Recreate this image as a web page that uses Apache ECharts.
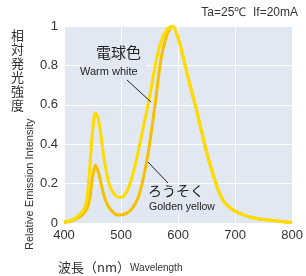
<!DOCTYPE html>
<html>
<head>
<meta charset="utf-8">
<script src="https://cdn.jsdelivr.net/npm/echarts@6/dist/echarts.min.js"></script>
<style>
  html, body { margin: 0; padding: 0; background: #fff; }
  #chart { width: 306px; height: 276px; }
</style>
</head>
<body>
<div id="chart"></div>
<script>
// 波長 (nm)
const wavelengths = [400, 410, 420, 430, 435, 440, 445, 450, 455, 460, 465, 470, 475, 480, 490, 500, 510, 520, 530, 540, 550, 560, 570, 580, 590,
  600, 610, 620, 630, 640, 650, 660, 670, 680, 690, 700, 720, 740, 760, 780, 800]
// 電球色 Warm white
const warmWhite = [0.005, 0.012, 0.025, 0.05, 0.07, 0.12, 0.27, 0.46, 0.56, 0.53, 0.44, 0.33, 0.25, 0.19, 0.14, 0.13, 0.16, 0.24, 0.36, 0.5, 0.64, 0.8, 0.92, 0.98, 1.0,
  0.94, 0.83, 0.71, 0.6, 0.48, 0.36, 0.26, 0.17, 0.11, 0.08, 0.06, 0.035, 0.022, 0.015, 0.008, 0.003]
// ろうそく Golden yellow
const goldenYellow = [0.003, 0.008, 0.018, 0.035, 0.05, 0.07, 0.12, 0.23, 0.295, 0.26, 0.2, 0.14, 0.1, 0.075, 0.045, 0.04, 0.05, 0.075, 0.13, 0.24, 0.4, 0.61, 0.83, 0.95, 1.0,
  0.94, 0.83, 0.71, 0.6, 0.48, 0.36, 0.26, 0.17, 0.11, 0.08, 0.06, 0.035, 0.022, 0.015, 0.008, 0.003]
const yTicks = [0, 0.2, 0.4, 0.6, 0.8, 1]

const font = 'Liberation Sans, Arial, sans-serif'
const cjk = 'Noto Sans CJK JP, sans-serif'
const plotBg = '#e1e8f2'

const chart = echarts.init(document.getElementById('chart'))

const pairs = (ys) => wavelengths.map((w, i) => [w, ys[i]])

chart.setOption({
  animation: false,
  grid: {
    left: 64, right: 10, top: 26, height: 197,
    show: true, backgroundColor: plotBg, borderWidth: 0
  },
  xAxis: {
    type: 'value', min: 400, max: 800, interval: 100,
    axisLine: { show: false },
    axisTick: { show: false },
    axisLabel: { color: '#333', fontSize: 13, fontFamily: font, margin: 6 },
    splitLine: { show: true, lineStyle: { color: '#fff', width: 1 } }
  },
  yAxis: {
    type: 'value', min: 0, max: 1, interval: 0.2,
    axisLine: { show: false },
    axisTick: { show: false },
    axisLabel: {
      color: '#333', fontSize: 13, fontFamily: font, margin: 6,
      formatter: (v) => yTicks.includes(+v.toFixed(1)) ? String(+v.toFixed(1)) : ''
    },
    splitLine: { show: true, lineStyle: { color: '#fff', width: 1 } }
  },
  series: [
    {
      name: 'Golden yellow', type: 'line', smooth: 0.3, showSymbol: false, z: 3,
      lineStyle: { color: '#f6c000', width: 3 },
      data: pairs(goldenYellow)
    },
    {
      name: 'Warm white', type: 'line', smooth: 0.3, showSymbol: false, z: 3,
      lineStyle: { color: '#ffdc00', width: 3 },
      data: pairs(warmWhite)
    }
  ],
  graphic: [
    { type: 'text', right: 8, top: 7, style: { text: 'Ta=25℃  If=20mA', font: '12px ' + font, fill: '#333' } },
    // 縦書きラベル
    { type: 'text', left: 11, top: 28, style: { text: '相\n対\n発\n光\n強\n度', font: '13px ' + cjk, fill: '#333', lineHeight: 14 } },
    { type: 'text', x: 24, y: 250, rotation: Math.PI / 2, style: { text: 'Relative Emission Intensity', font: '11px ' + font, fill: '#333' } },
    // 軸タイトル
    { type: 'text', left: 58, top: 261, style: { text: '波長（nm）', font: '13px ' + cjk, fill: '#333' } },
    { type: 'text', left: 130, top: 263, style: { text: 'Wavelength', font: '10px ' + font, fill: '#333' } },
    // 注記（下地でグリッド線を隠す、曲線より下）
    { type: 'rect', z: 1, shape: { x: 80, y: 46, width: 66, height: 33 }, style: { fill: plotBg } },
    { type: 'text', left: 96, top: 45, z: 10, style: { text: '電球色', font: '15px ' + cjk, fill: '#222' } },
    { type: 'text', left: 80, top: 66, z: 10, style: { text: 'Warm white', font: '11px ' + font, fill: '#222' } },
    { type: 'line', z: 10, shape: { x1: 127, y1: 80, x2: 151, y2: 102 }, style: { stroke: '#222', lineWidth: 1 } },
    { type: 'rect', z: 1, shape: { x: 147, y: 186, width: 74, height: 29 }, style: { fill: plotBg } },
    { type: 'text', left: 148, top: 184, z: 10, style: { text: 'ろうそく', font: '14px ' + cjk, fill: '#222' } },
    { type: 'text', left: 149, top: 202, z: 10, style: { text: 'Golden yellow', font: '10.5px ' + font, fill: '#222' } },
    { type: 'line', z: 10, shape: { x1: 148, y1: 162, x2: 168, y2: 183 }, style: { stroke: '#222', lineWidth: 1 } }
  ]
})
</script>
</body>
</html>
